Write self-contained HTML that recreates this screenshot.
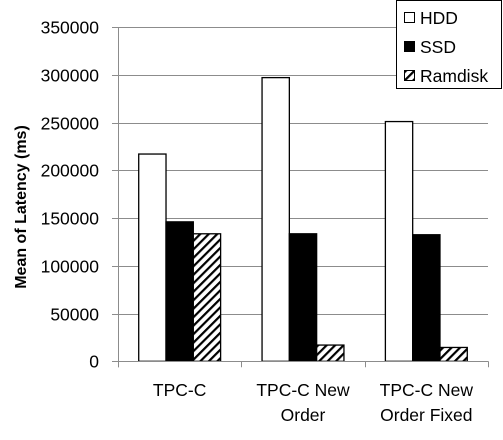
<!DOCTYPE html>
<html><head><meta charset="utf-8"><style>
body{margin:0;background:#fff;}
svg{display:block;font-family:"Liberation Sans",sans-serif;}
</style></head><body>
<svg id="chart" width="503" height="440" viewBox="0 0 503 440" xmlns="http://www.w3.org/2000/svg">
<defs>
<pattern id="hatch" patternUnits="userSpaceOnUse" width="6" height="6" patternTransform="rotate(45)">
<rect width="6" height="6" fill="#fff"/>
<rect x="0" y="0" width="2.2" height="6" fill="#000"/>
</pattern>
</defs>
<g id="grid"></g>
<g id="bars"></g>
<g id="axes"></g>
<text transform="translate(26,207) rotate(-90)" text-anchor="middle" font-size="16" font-weight="bold">Mean of Latency (ms)</text>
<g>
<rect x="396.5" y="0.5" width="105" height="88" fill="#fff" stroke="#000" stroke-width="1"/>
<g><rect x="404.5" y="12.5" width="10" height="10" fill="#fff" stroke="#000"/><text x="420" y="24" font-size="17.5">HDD</text></g>
<g><rect x="404.5" y="41.5" width="10" height="10" fill="#000" stroke="#000"/><text x="420" y="53" font-size="17.5">SSD</text></g>
<g><rect x="404.5" y="70.5" width="10" height="10" fill="url(#hatch)" stroke="#000"/><text x="420" y="82" font-size="17.5">Ramdisk</text></g>
</g>
</svg>
<script>
const categories = [["TPC-C"], ["TPC-C New", "Order"], ["TPC-C New", "Order Fixed"]];
const hdd = [217000, 297000, 251000];
const ssd = [146000, 133500, 132500];
const ramdisk = [133500, 17000, 14500];
const yTicks = [0, 50000, 100000, 150000, 200000, 250000, 300000, 350000];

const NS = "http://www.w3.org/2000/svg";
const x0 = 118, x1 = 488, yZero = 361.3, yTop = 27, yMax = 350000;
const y = v => yZero - (v / yMax) * (yZero - yTop);
const bandW = (x1 - x0) / categories.length;
const barW = 27.3;
function mk(tag, attrs, parent) {
  const e = document.createElementNS(NS, tag);
  for (const k in attrs) e.setAttribute(k, attrs[k]);
  parent.appendChild(e);
  return e;
}
const grid = document.getElementById('grid');
const axes = document.getElementById('axes');
const bars = document.getElementById('bars');
yTicks.forEach(t => {
  const yy = Math.round(y(t)) + 0.5;
  if (t > 0) {
    const g = mk('line', {x1: 112, x2: x1, y1: yy, y2: yy, stroke: '#8c8c8c', 'stroke-width': 1}, grid);
    
    
  }
  const lb = mk('text', {x: 99, y: yy + 6, 'text-anchor': 'end', 'font-size': 17.5}, axes);
  lb.textContent = t;
  
  
});
const series = [[hdd, '#fff'], [ssd, '#000'], [ramdisk, 'url(#hatch)']];
const names = ['hdd', 'ssd', 'ramdisk'];
categories.forEach((c, i) => {
  const cx = x0 + bandW * (i + 0.5);
  const start = cx - barW * 1.5;
  series.forEach((s, j) => {
    const top = y(s[0][i]);
    const r = mk('rect', {x: start + j * barW, y: top, width: barW, height: yZero - top, fill: s[1], stroke: '#000', 'stroke-width': 1.3}, bars);
    
    
  });
  c.forEach((line, k) => {
    const t = mk('text', {x: cx, y: 396 + k * 25, 'text-anchor': 'middle', 'font-size': 17.5}, axes);
    t.textContent = line;
    
    
  });
});
const ya = mk('line', {x1: x0 + 0.5, x2: x0 + 0.5, y1: yTop, y2: yZero + 6, stroke: '#8c8c8c', 'stroke-width': 1}, axes);


const xa = mk('line', {x1: 112, x2: x1, y1: Math.round(yZero) + 0.5, y2: Math.round(yZero) + 0.5, stroke: '#8c8c8c', 'stroke-width': 1}, axes);


for (let i = 0; i <= categories.length; i++) {
  const xx = Math.round(x0 + bandW * i) + 0.5;
  const tk = mk('line', {x1: xx, x2: xx, y1: yZero, y2: yZero + 6, stroke: '#8c8c8c', 'stroke-width': 1}, axes);
  
  
}
</script>
</body></html>
